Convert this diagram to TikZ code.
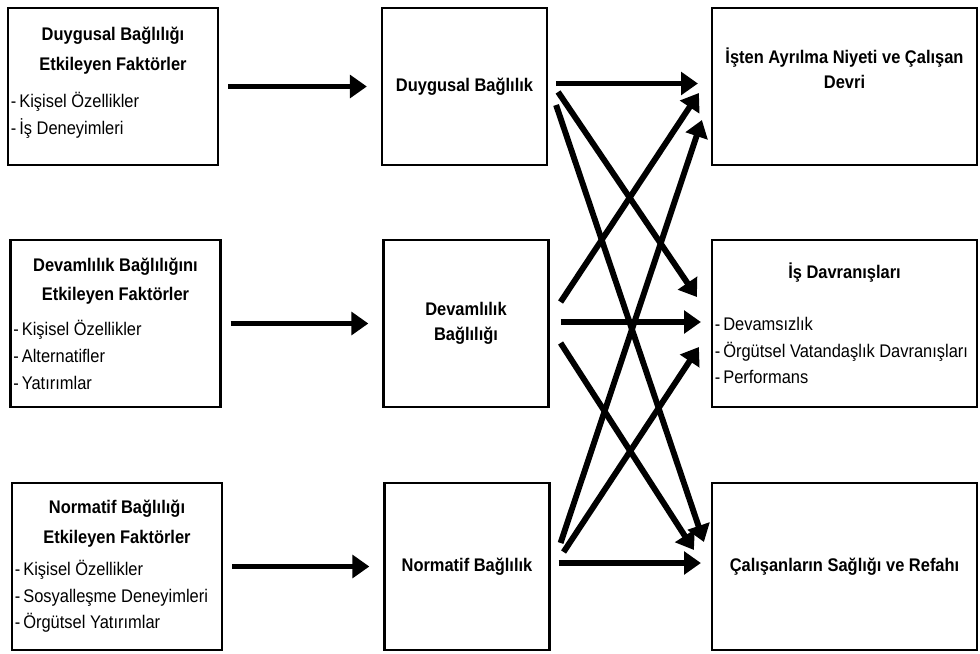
\documentclass[tikz,border=0pt]{standalone}
\usepackage{fontspec}
\setmainfont{Liberation Sans}[FakeStretch=0.9]
\usetikzlibrary{arrows.meta,calc}

\newcommand{\schrift}[1]{\fontsize{13}{#1}\selectfont\spaceskip=0.25em plus 0.08em minus 0.05em\relax}
\newcommand{\titel}[2][6pt]{{\centering\bfseries\schrift{21}#2\par}\vspace{#1}\schrift{19}}

\tikzset{
  kasten/.style={draw, line width=1.5pt, inner sep=2pt, font=\schrift{19}},
  links/.style={kasten, minimum width=5.25cm, text width=5.25cm-4pt, align=left},
  mitte/.style={kasten, minimum width=4.125cm, align=center, font=\bfseries\schrift{18}},
  rechts/.style={kasten, minimum width=6.625cm, align=center},
  pfeil/.style={line width=4.2pt, -{Triangle[length=12pt,width=16pt]}}
}

\begin{document}
\begin{tikzpicture}[x=0.025cm, y=-0.025cm]
  % Rahmen
  \fill[white] (0,0) rectangle (980,653);
  \useasboundingbox (0,0) rectangle (980,653);
  % Faktoren links
  \node[links, minimum height=3.925cm] (dyfak) at (113,86.5)
    {\titel[8pt]{Duygusal Bağlılığı\\Etkileyen Faktörler}-\,Kişisel Özellikler\\-\,İş Deneyimleri\rule[-8pt]{0pt}{0pt}};
  \node[links, minimum height=4.175cm] (dvfak) at (115.5,323.5)
    {\titel{Devamlılık Bağlılığını\\Etkileyen Faktörler}-\,Kişisel Özellikler\\-\,Alternatifler\\-\,Yatırımlar};
  \node[links, minimum height=4.175cm] (nofak) at (117,566.5)
    {\titel[4pt]{Normatif Bağlılığı\\Etkileyen Faktörler}-\,Kişisel Özellikler\\-\,Sosyalleşme Deneyimleri\\-\,Örgütsel Yatırımlar};
  % Bindungen
  \node[mitte, minimum height=3.925cm] (dyb) at (464.5,86.5) {Duygusal Bağlılık};
  \node[mitte, minimum height=4.175cm] (dvb) at (466,323.5) {Devamlılık\\Bağlılığı};
  \node[mitte, minimum height=4.175cm] (nob) at (467,566.5) {Normatif Bağlılık};
  % Folgen
  \node[rechts, minimum height=3.925cm, font=\bfseries\schrift{18}] (ayrilma) at (844.5,86.5)
    {İşten Ayrılma Niyeti ve Çalışan\\Devri\rule[-26pt]{0pt}{0pt}};
  \node[rechts, minimum height=4.175cm, text width=6.625cm-4pt, align=left] (davranis) at (844.5,323.5)
    {\titel[18pt]{İş Davranışları}-\,Devamsızlık\\-\,Örgütsel Vatandaşlık Davranışları\\-\,Performans};
  \node[rechts, minimum height=4.175cm, font=\bfseries\schrift{18}] (saglik) at (844.5,566.5)
    {Çalışanların Sağlığı ve Refahı};
  % Pfeile links
  \draw[pfeil, shorten <=6.5pt, shorten >=10pt] (dyfak) -- (dyb);
  \draw[pfeil, shorten <=6.5pt, shorten >=10pt] (dvfak) -- (dvb);
  \draw[pfeil, shorten <=6.5pt, shorten >=10pt] (nofak) -- (nob);
  % Pfeile rechts
  \draw[pfeil] ($(dyb.east)+(8,-3)$) -- ($(ayrilma.west)+(-13,-3)$);
  \draw[pfeil] ($(dyb.east)+(10,5.5)$) -- ($(davranis.west)+(-14,-26.5)$);
  \draw[pfeil] ($(dyb.east)+(8,18.5)$) -- ($(saglik.west)+(-7,-24.5)$);
  \draw[pfeil] ($(dvb.east)+(11,-21.5)$) -- ($(ayrilma.west)+(-12,6.5)$);
  \draw[pfeil] ($(dvb.east)+(11,-1.5)$) -- ($(davranis.west)+(-10,-1.5)$);
  \draw[pfeil] ($(dvb.east)+(11,19.5)$) -- ($(saglik.west)+(-17,-16.5)$);
  \draw[pfeil] ($(nob.east)+(10,-23.5)$) -- ($(ayrilma.west)+(-9,33.5)$);
  \draw[pfeil] ($(nob.east)+(13,-14.5)$) -- ($(davranis.west)+(-12,23.5)$);
  \draw[pfeil] ($(nob.east)+(8,-3.5)$) -- ($(saglik.west)+(-10,-3.5)$);
\end{tikzpicture}
\end{document}
